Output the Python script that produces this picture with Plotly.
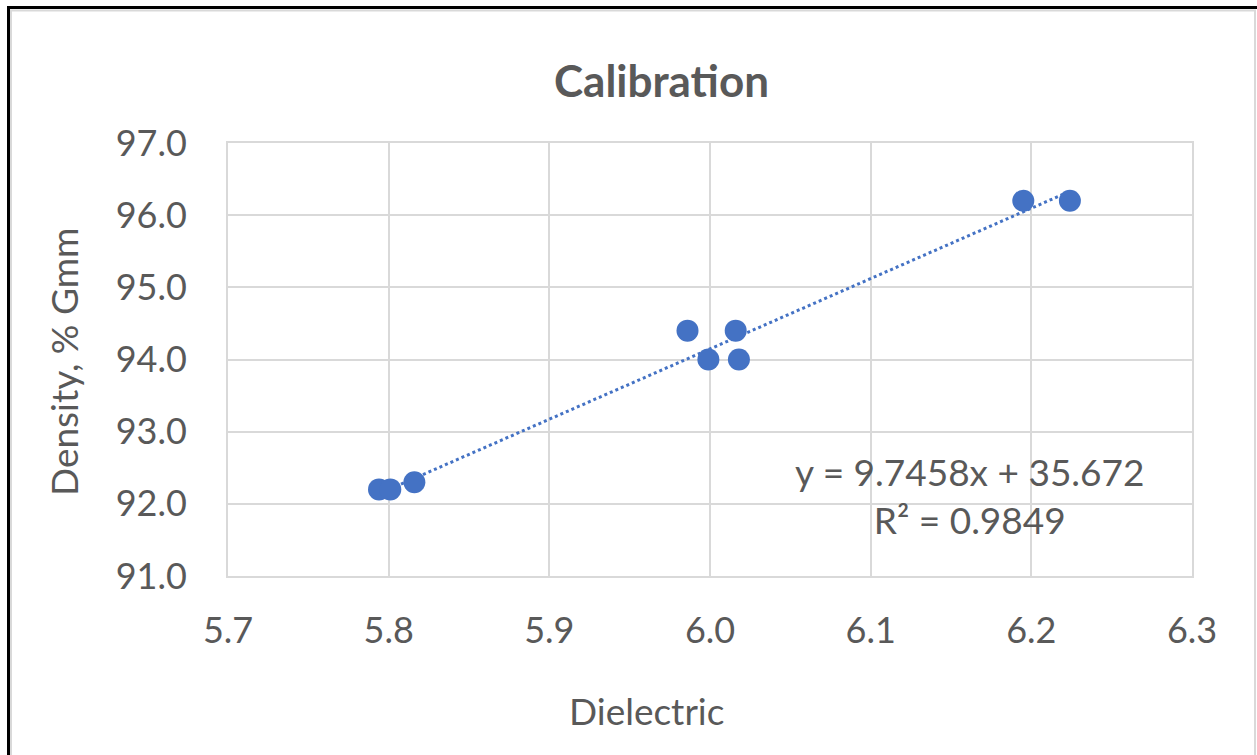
import plotly.graph_objects as go

# Data
dielectric = [5.794, 5.801, 5.816, 5.986, 5.999, 6.016, 6.018, 6.195, 6.224]
density = [92.2, 92.2, 92.3, 94.4, 94.0, 94.4, 94.0, 96.2, 96.2]
slope = 9.7458
intercept = 35.672
r_squared = 0.9849
x_ticks = [5.7, 5.8, 5.9, 6.0, 6.1, 6.2, 6.3]
y_ticks = [91.0, 92.0, 93.0, 94.0, 95.0, 96.0, 97.0]

W, H = 1257, 755
L, R, T, B = 228, 1192, 143, 576
blue = "#4472C4"
txt = "#595959"
grid = "#d9d9d9"
font = "Lato, Open Sans, sans-serif"

x0, x1 = min(dielectric), max(dielectric)
trend_x = [x0, x1]
trend_y = [slope * v + intercept for v in trend_x]

fig = go.Figure()
fig.add_trace(go.Scatter(x=trend_x, y=trend_y, mode="lines",
                         line=dict(color=blue, width=3, dash="dot"),
                         hoverinfo="skip", showlegend=False))
fig.add_trace(go.Scatter(x=dielectric, y=density, mode="markers",
                         marker=dict(color=blue, size=22),
                         showlegend=False))

def px2paper_x(px):
    return (px - L) / (R - L)

def px2paper_y(py):
    return (B - py) / (B - T)

shapes = [
    dict(type="rect", xref="paper", yref="paper",
         x0=px2paper_x(11), x1=px2paper_x(1255), y0=px2paper_y(760), y1=px2paper_y(10.5),
         line=dict(color=grid, width=2), fillcolor="rgba(0,0,0,0)", layer="below"),
    dict(type="line", xref="paper", yref="paper",
         x0=px2paper_x(8.5), x1=px2paper_x(1260), y0=px2paper_y(7.5), y1=px2paper_y(7.5),
         line=dict(color="black", width=3)),
    dict(type="line", xref="paper", yref="paper",
         x0=px2paper_x(8.5), x1=px2paper_x(8.5), y0=px2paper_y(6), y1=px2paper_y(760),
         line=dict(color="black", width=3)),
]

fig.update_layout(
    width=W, height=H,
    margin=dict(l=L, r=W - R, t=T, b=H - B, autoexpand=False),
    paper_bgcolor="white", plot_bgcolor="white",
    font=dict(family=font, color=txt, size=36),
    title=dict(text="<b>Calibration</b>", x=(553 + 770) / 2 / W, xanchor="center",
               y=1 - 82 / H, yanchor="middle",
               font=dict(family=font, size=44, color=txt)),
    shapes=shapes,
    annotations=[
        dict(xref="paper", yref="paper", x=px2paper_x(969), y=px2paper_y(495),
             text=f"y = {slope}x + {intercept}<br>R² = {r_squared}",
             showarrow=False, align="center", xanchor="center", yanchor="middle",
             font=dict(family=font, size=37, color=txt)),
        dict(xref="paper", yref="paper", x=px2paper_x(646), y=px2paper_y(710),
             text="Dielectric", showarrow=False, xanchor="center", yanchor="middle",
             font=dict(family=font, size=37, color=txt)),
        dict(xref="paper", yref="paper", x=px2paper_x(63), y=px2paper_y(362),
             text="Density, % Gmm", showarrow=False, textangle=-90,
             xanchor="center", yanchor="middle",
             font=dict(family=font, size=37, color=txt)),
    ],
)

fig.update_xaxes(range=[5.7, 6.3], tickvals=x_ticks, ticktext=[f"{v:.1f}" for v in x_ticks],
                 showgrid=True, gridcolor=grid, gridwidth=2,
                 showline=True, linecolor=grid, linewidth=2, mirror=True,
                 zeroline=False, ticks="outside", ticklen=22, tickcolor="rgba(0,0,0,0)",
                 tickfont=dict(size=36))
fig.update_yaxes(range=[91.0, 97.0], tickvals=y_ticks, ticktext=[f"{v:.1f}" for v in y_ticks],
                 showgrid=True, gridcolor=grid, gridwidth=2,
                 showline=True, linecolor=grid, linewidth=2, mirror=True,
                 zeroline=False, ticks="outside", ticklen=32, tickcolor="rgba(0,0,0,0)",
                 tickfont=dict(size=36))

fig.write_html("out.html", config={"displayModeBar": False},
               post_script="document.body.style.margin='0';document.body.style.padding='0';")
